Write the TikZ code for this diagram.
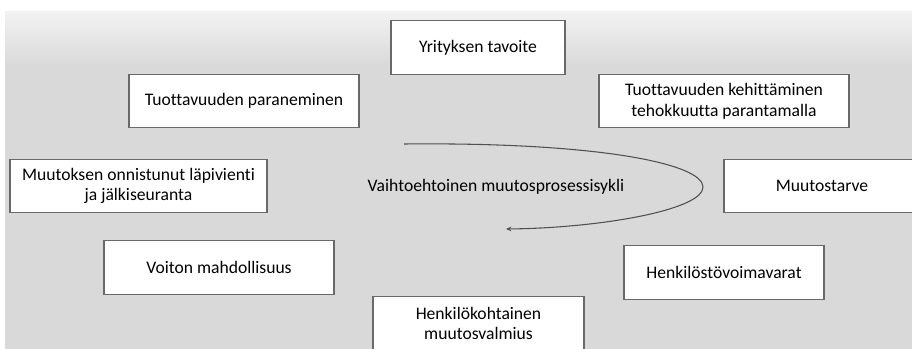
\documentclass[tikz,border=0pt]{standalone}
\usepackage{fontspec}
\setmainfont[Ligatures=NoCommon]{Carlito}
\usepackage{tikz}
\usetikzlibrary{positioning, arrows.meta, calc}
\definecolor{panelbg}{RGB}{217,217,217}
\definecolor{paneltop}{RGB}{242,242,242}
\definecolor{boxline}{RGB}{105,105,105}
\definecolor{cycleline}{RGB}{80,80,80}
\tikzset{
  stage/.style={
    rectangle, draw=boxline, line width=0.8pt, fill=white,
    minimum height=40pt, align=center, inner sep=2pt,
    font=\fontsize{13.2}{15.5}\selectfont, text=black
  },
  cycle label/.style={font=\fontsize{13.2}{15.5}\selectfont, text=black},
  cycle arrow/.style={draw=cycleline, line width=0.8pt, -{Stealth[length=4pt, width=3.5pt]}},
}

\begin{document}
\begin{tikzpicture}[x=0.75pt, y=-0.75pt]
  \useasboundingbox (0,0) rectangle (912,349);
  \shade[top color=paneltop, bottom color=panelbg] (5,12) rectangle (912,66);
  \fill[panelbg] (5,65) rectangle (912,349);

  \node[stage, minimum width=130.5pt] (goal) at (478,47.5) {Yrityksen tavoite};
  \node[stage, minimum width=172.5pt] (gain) at (244,101) {Tuottavuuden paraneminen};
  \node[stage, minimum width=187.5pt] (develop) at (724,101) {Tuottavuuden kehittäminen\\tehokkuutta parantamalla};
  \node[stage, minimum width=192.75pt] (followup) at (138.5,186) {Muutoksen onnistunut läpivienti\\ja jälkiseuranta};
  \node[stage, minimum width=147pt] (need) at (822,186) {Muutostarve};
  \node[stage, minimum width=172.5pt] (profit) at (219,267.5) {Voiton mahdollisuus};
  \node[stage, minimum width=150pt] (staff) at (724,272.5) {Henkilöstövoimavarat};
  \node[stage, minimum width=158.25pt] (readiness) at (478.5,323.5) {Henkilökohtainen\\muutosvalmius};

  \node[cycle label] (cyclename) at (496,187) {Vaihtoehtoinen muutosprosessisykli};
  \coordinate (cyclestart) at (404,144);
  \coordinate (cycleturn) at (703,187);
  \coordinate (cycleend) at (506,229);
  \draw[cycle arrow] (cyclestart) .. controls (600,142) and (703,164) .. (cycleturn)
    .. controls (703,210) and (600,228) .. (cycleend);
\end{tikzpicture}
\end{document}
